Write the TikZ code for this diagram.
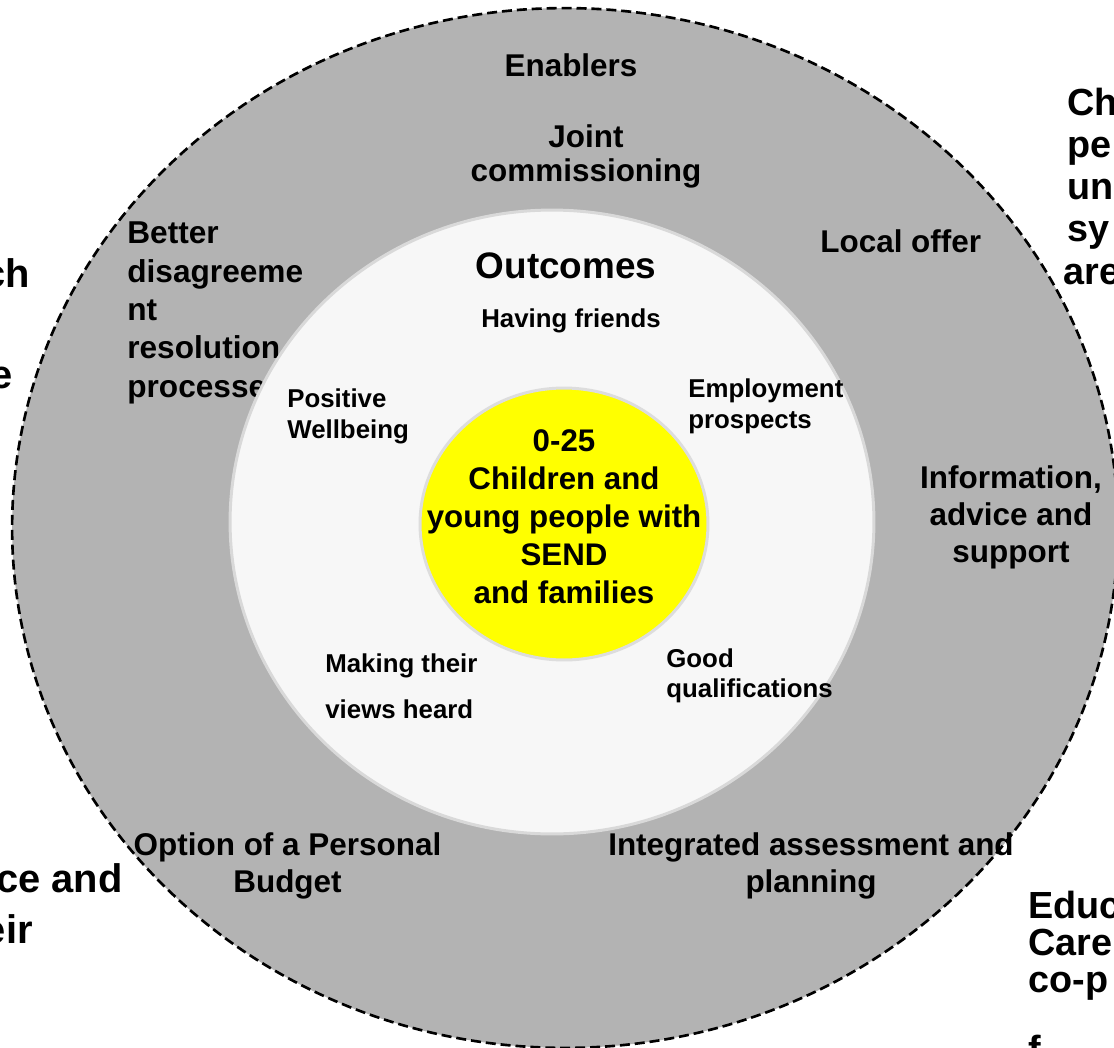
\documentclass[tikz,border=0pt]{standalone}
\usepackage{fontspec}
\setmainfont{Liberation Sans}
\definecolor{ringgray}{RGB}{179,179,179}
\definecolor{outcomefill}{RGB}{247,247,247}
\definecolor{outcomeline}{RGB}{217,217,217}
\definecolor{coreline}{RGB}{221,221,221}
\definecolor{coreyellow}{RGB}{255,255,0}
\begin{document}
\begin{tikzpicture}[x=0.02cm,y=-0.02cm,
    ringtxt/.style={font={\fontsize{17.9}{21.2}\selectfont\bfseries},inner sep=0pt,align=center},
    itemtxt/.style={font={\fontsize{14.7}{17.6}\selectfont\bfseries},inner sep=0pt,align=left},
    edgetxt/.style={font={\fontsize{22.7}{27.6}\selectfont\bfseries},inner sep=0pt},
    sidetxt/.style={font={\fontsize{21.5}{24}\selectfont\bfseries},inner sep=0pt}]
    \useasboundingbox (0,0) rectangle (1114,1047);
    \clip (0,0) rectangle (1114,1047);
    %% Text boxes cut off at the edges
    \node[edgetxt,anchor=base east] (leftA) at (30,287) {ch};
    \node[edgetxt,anchor=base east] (leftB) at (13,388) {e};
    \node[edgetxt,anchor=base east] (leftC) at (123,892) {ce and};
    \node[edgetxt,anchor=base east] (leftD) at (33,943) {eir};
    \node[sidetxt,anchor=base west] (rightA) at (1067,116) {Ch};
    \node[sidetxt,anchor=base west] (rightB) at (1067,158) {pe};
    \node[sidetxt,anchor=base west] (rightC) at (1067,200) {un};
    \node[sidetxt,anchor=base west] (rightD) at (1067,242) {sy};
    \node[sidetxt,anchor=base west] (rightE) at (1063,284) {are};
    \node[sidetxt,anchor=base west] (lowA) at (1028,918) {Educ};
    \node[sidetxt,anchor=base west] (lowB) at (1028,955) {Care};
    \node[sidetxt,anchor=base west] (lowC) at (1028,992) {co-p};
    \node[sidetxt,anchor=base west] (lowD) at (1028,1062) {f};
    %% Enablers ring (multi-line nodes sit on their last baseline)
    \draw[dash pattern=on 5.7pt off 2.8pt,line width=1.5pt,fill=ringgray] (565,528) ellipse [x radius=11.06cm,y radius=10.4cm];
    \node[ringtxt,anchor=base] (enablers) at (571,77) {Enablers};
    \node[ringtxt,anchor=base,font={\fontsize{17.9}{19.8}\selectfont\bfseries}] (joint) at (586,182) {Joint\\commissioning};
    \node[ringtxt,anchor=base west] (local) at (820,253) {Local offer};
    \node[ringtxt,anchor=base west,align=left,font={\fontsize{18}{21.8}\selectfont\bfseries}] (better) at (127,397) {Better\\disagreeme\\nt\\resolution\\processes};
    \node[ringtxt,anchor=base,font={\fontsize{17.9}{21}\selectfont\bfseries}] (info) at (1011,562) {Information,\\advice and\\support};
    \node[ringtxt,anchor=base,font={\fontsize{17.9}{21}\selectfont\bfseries}] (budget) at (287.5,892) {Option of a Personal\\Budget};
    \node[ringtxt,anchor=base,font={\fontsize{17.9}{21}\selectfont\bfseries}] (assess) at (811,892) {Integrated assessment and\\planning};
    %% Outcomes ring
    \draw[line width=1.7pt,draw=outcomeline,fill=outcomefill] (552,522) ellipse [x radius=6.44cm,y radius=6.24cm];
    \node[ringtxt,anchor=base,font={\fontsize{21}{25}\selectfont\bfseries}] (outcomes) at (566,278) {Outcomes};
    \node[itemtxt,anchor=base] (friends) at (571,327) {Having friends};
    \node[itemtxt,anchor=base west] (employ) at (688,428) {Employment\\prospects};
    \node[itemtxt,anchor=base west] (wellbeing) at (287,438) {Positive\\Wellbeing};
    \node[itemtxt,anchor=base west,font={\fontsize{14.7}{26.1}\selectfont\bfseries}] (views) at (325,718) {Making their\\views heard};
    \node[itemtxt,anchor=base west,font={\fontsize{14.7}{17}\selectfont\bfseries}] (quals) at (666,697) {Good\\qualifications};
    %% Children and young people
    \draw[line width=1.7pt,draw=coreline,fill=coreyellow] (564,524) ellipse [x radius=2.88cm,y radius=2.72cm];
    \node[ringtxt,anchor=base,font={\fontsize{17.8}{21.5}\selectfont\bfseries}] (core) at (564,603) {0-25\\Children and\\young people with\\SEND\\and families};
\end{tikzpicture}
\end{document}
